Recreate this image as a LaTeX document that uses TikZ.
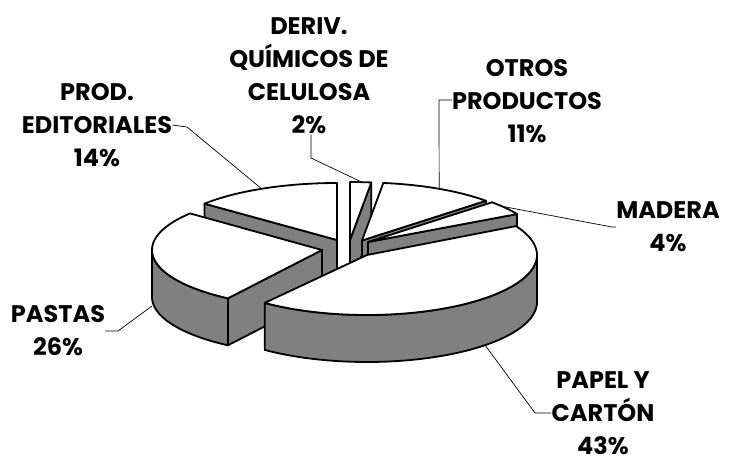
\documentclass[tikz,border=0pt]{standalone}
\usepackage{fontspec}
\newfontfamily\labfont{Poppins}
\definecolor{sidegray}{RGB}{128,128,128}
\newcommand\pieh{47}
\newcommand\pietop[6]{\filldraw[topface] (#1,#2) -- plot[domain=#5:#6,samples=60,variable=\t] ({#1+#3*cos(\t)},{#2-#4*sin(\t)}) -- cycle;}
\newcommand\pieside[6]{\filldraw[sideface] plot[domain=#5:#6,samples=60,variable=\t] ({#1+#3*cos(\t)},{#2-#4*sin(\t)}) -- plot[domain=#6:#5,samples=60,variable=\t] ({#1+#3*cos(\t)},{#2+\pieh-#4*sin(\t)}) -- cycle;}
\newcommand\pierad[5]{\filldraw[sideface] (#1,#2) -- ({#1+#3*cos(#5)},{#2-#4*sin(#5)}) -- ({#1+#3*cos(#5)},{#2+\pieh-#4*sin(#5)}) -- ({#1},{#2+\pieh}) -- cycle;}
\begin{document}
\begin{tikzpicture}[x=1pt,y=-1pt,
  topface/.style={fill=white,draw=black,line width=1.8pt,line join=round},
  sideface/.style={fill=sidegray,draw=black,line width=1.8pt,line join=round},
  leader/.style={draw=black,line width=0.7pt},
  lab/.style={font=\labfont\bfseries\fontsize{24}{33}\selectfont,align=center,inner sep=0pt}]
\useasboundingbox (0,0) rectangle (734,464);
% slices, back to front
% Deriv. quimicos 2%
\pierad{350}{240}{170}{58}{82.8}
\pietop{350}{240}{170}{58}{82.8}{90}
% Prod. editoriales 14%
\pierad{337}{240}{172}{57}{140.4}
\pietop{337}{240}{172}{57}{90}{140.4}
% Otros productos 11%
\pierad{362}{240.5}{170}{58}{43.2}
\pietop{362}{240.5}{170}{58}{43.2}{82.8}
% Madera 4%
\pierad{368}{242}{170}{58}{28.8}
\pietop{368}{242}{170}{58}{28.8}{43.2}
% Pastas 26%
\pieside{322}{250}{170}{58}{180}{236.4}
\pierad{322}{250}{170}{58}{236.4}
\pietop{322}{250}{170}{58}{140.9}{236.4}
% Papel y carton 43%
\pieside{367}{255}{170}{60}{-127}{0}
\pietop{367}{255}{170}{60}{-127}{28.8}

% labels
\node[lab] (lderiv) at (309,76) {DERIV.\\QUÍMICOS DE\\CELULOSA\\2\%};
\node[lab] (lotros) at (527,101) {OTROS\\PRODUCTOS\\11\%};
\node[lab] (lmadera) at (668,227) {MADERA\\4\%};
\node[lab] (lprod) at (97,125) {PROD.\\EDITORIALES\\14\%};
\node[lab] (lpastas) at (58,331) {PASTAS\\26\%};
\node[lab] (lpapel) at (603,413) {PAPEL Y\\CARTÓN\\43\%};

% leader points
\coordinate (eprod) at ({337+172*cos(116)},{240-57*sin(116)});
\coordinate (ederiv) at ({350+170*cos(86)},{240-58*sin(86)});
\coordinate (eotros) at ({362+170*cos(63)},{240.5-58*sin(63)});
\coordinate (emadera) at ({368+170*cos(38)},{242-58*sin(38)});
\coordinate (epastas) at (152,306);
\coordinate (epapel) at ({367+170*cos(-46)},{255+\pieh-60*sin(-46)});
\coordinate (kprod) at (187,127);
\coordinate (kderiv) at (311,158);
\coordinate (kotros) at (439,100);
\coordinate (kmadera) at (612,227);
\coordinate (kpastas) at (118,331);
\coordinate (kpapel) at (535,413);

\draw[leader] (lprod.east) -- (kprod) -- (eprod);
\draw[leader] (lderiv.south -| kderiv) -- (kderiv) -- (ederiv);
\draw[leader] (lotros.west |- kotros) -- (kotros) -- (eotros);
\draw[leader] (lmadera.west |- kmadera) -- (kmadera) -- (emadera);
\draw[leader] (lpastas.east |- kpastas) -- (kpastas) -- (epastas);
\draw[leader] (lpapel.west |- kpapel) -- (kpapel) -- (epapel);
\end{tikzpicture}
\end{document}
